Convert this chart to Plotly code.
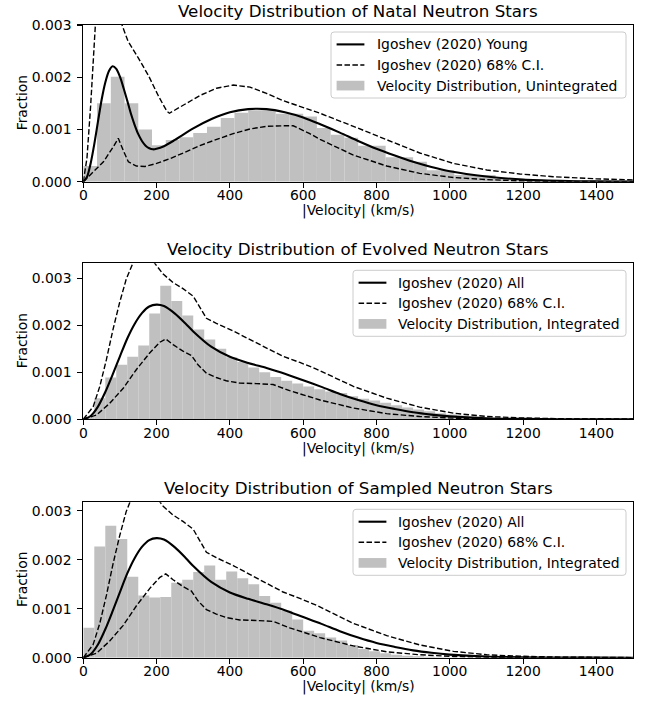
import plotly.graph_objects as go

# ---------------- data (fractions in units of 1e-3) ----------------
SCALE = 1e-3

# Histograms
natal_bin = 37.5
natal_hist = [0.30, 1.50, 2.01, 1.50, 1.00, 0.70, 0.80, 0.85, 0.93, 1.05,
              1.22, 1.32, 1.37, 1.37, 1.30, 1.30, 1.25, 1.03, 0.90, 0.84,
              0.69, 0.69, 0.47, 0.47, 0.38, 0.22, 0.22, 0.13, 0.13, 0.13,
              0.05, 0.05, 0.02, 0.01, 0.0, 0.0, 0.0, 0.0, 0.0, 0.0]

evolved_bin = 30.0
evolved_hist = [0.05, 0.45, 0.89, 1.16, 1.33, 1.57, 2.25, 2.84, 2.52, 2.21,
                1.91, 1.70, 1.50, 1.32, 1.22, 1.10, 1.00, 0.90, 0.82, 0.76,
                0.70, 0.64, 0.59, 0.56, 0.49, 0.44, 0.40, 0.35, 0.30, 0.25,
                0.21, 0.17, 0.13, 0.10, 0.08, 0.06, 0.04, 0.03, 0.02, 0.015,
                0.01, 0.005, 0.003, 0.0, 0.0, 0.0, 0.0, 0.0, 0.0, 0.0]

sampled_bin = 30.0
sampled_hist = [0.61, 2.27, 2.69, 2.42, 1.65, 1.27, 1.23, 1.24, 1.53, 1.59,
                1.75, 1.88, 1.59, 1.76, 1.62, 1.50, 1.26, 1.12, 0.96, 0.78,
                0.55, 0.50, 0.41, 0.35, 0.26, 0.18, 0.13, 0.09, 0.06, 0.04,
                0.03, 0.02, 0.01, 0.005, 0.0, 0.0, 0.0, 0.0, 0.0, 0.0,
                0.0, 0.0, 0.0, 0.0, 0.0, 0.0, 0.0, 0.0, 0.0, 0.0]

# Igoshev (2020) Young
young_v = [0, 10, 20, 30, 40, 50, 60, 70, 80, 90, 100, 110, 120, 130, 140,
           150, 160, 170, 180, 190, 200, 220, 250, 300, 350, 400, 450, 500,
           550, 600, 650, 700, 750, 800, 850, 900, 950, 1000, 1100, 1200,
           1300, 1400, 1500]
young_f = [0, 0.09, 0.35, 0.72, 1.15, 1.57, 1.90, 2.12, 2.21, 2.16, 2.01,
           1.79, 1.55, 1.30, 1.09, 0.91, 0.78, 0.69, 0.64, 0.62, 0.63, 0.68,
           0.80, 1.02, 1.20, 1.33, 1.39, 1.39, 1.33, 1.23, 1.09, 0.94, 0.78,
           0.63, 0.50, 0.38, 0.28, 0.20, 0.10, 0.04, 0.016, 0.006, 0.002]

young_hi_v = [0, 10, 20, 30, 35, 45, 60, 75, 90, 102, 122, 150, 178, 205, 228,
              235, 250, 273, 300, 318, 364, 409, 455, 500, 546, 591, 637, 646,
              737, 828, 918, 1010, 1101, 1191, 1282, 1400, 1500]
young_hi = [0, 0.45, 1.45, 2.65, 3.25, 4.0, 4.6, 4.5, 3.8, 3.07, 2.69, 2.37,
            2.03, 1.64, 1.35, 1.31, 1.37, 1.47, 1.58, 1.65, 1.79, 1.85, 1.81,
            1.69, 1.55, 1.44, 1.33, 1.31, 1.06, 0.80, 0.55, 0.35, 0.225,
            0.148, 0.096, 0.055, 0.035]

young_lo_v = [0, 27, 55, 82, 95.5, 109, 123, 145, 168, 200, 236, 273, 318, 364,
              409, 455, 500, 546, 573, 618, 646, 737, 828, 918, 1010, 1101,
              1200, 1300, 1500]
young_lo = [0, 0.19, 0.38, 0.67, 0.83, 0.60, 0.38, 0.30, 0.29, 0.35, 0.44,
            0.55, 0.69, 0.81, 0.92, 1.01, 1.06, 1.07, 1.07, 0.92, 0.81, 0.51,
            0.30, 0.16, 0.08, 0.04, 0.015, 0.005, 0.0]

# Igoshev (2020) All
all_v = [0, 20, 40, 60, 80, 100, 120, 140, 160, 180, 200, 220, 250, 280, 300,
         350, 400, 450, 500, 550, 600, 650, 700, 750, 800, 850, 900, 950,
         1000, 1100, 1200, 1300, 1400, 1500]
all_f = [0, 0.07, 0.27, 0.58, 0.95, 1.34, 1.72, 2.03, 2.26, 2.40, 2.44, 2.41,
         2.25, 2.03, 1.87, 1.54, 1.33, 1.20, 1.09, 0.97, 0.83, 0.69, 0.54,
         0.41, 0.30, 0.22, 0.15, 0.10, 0.063, 0.023, 0.008, 0.002, 0.0006,
         0.0001]

all_hi_v = [0, 27, 45, 63, 81, 99, 117, 134, 150, 165, 180, 193, 218, 245, 272,
            300, 336, 363, 409, 454, 500, 545, 591, 636, 737, 828, 918, 1010,
            1101, 1191, 1300, 1400, 1500]
all_hi = [0, 0.27, 0.70, 1.27, 1.91, 2.48, 2.98, 3.34, 3.6, 3.7, 3.6, 3.34,
          3.09, 2.91, 2.78, 2.62, 2.15, 2.04, 1.88, 1.70, 1.52, 1.34, 1.21,
          1.07, 0.70, 0.45, 0.26, 0.13, 0.06, 0.03, 0.012, 0.005, 0.002]

all_lo_v = [0, 36, 72, 109, 145, 181, 209, 225, 245, 272, 295, 313, 336, 363,
            390, 427, 472, 518, 563, 609, 646, 737, 828, 918, 1010, 1101, 1200,
            1500]
all_lo = [0, 0.09, 0.34, 0.66, 1.06, 1.41, 1.64, 1.71, 1.59, 1.45, 1.36, 1.16,
          0.98, 0.89, 0.82, 0.77, 0.76, 0.74, 0.61, 0.50, 0.41, 0.24, 0.12,
          0.06, 0.025, 0.01, 0.004, 0.0]

titles = ["Velocity Distribution of Natal Neutron Stars",
          "Velocity Distribution of Evolved Neutron Stars",
          "Velocity Distribution of Sampled Neutron Stars"]
legend_labels = [
    ["Igoshev (2020) Young", "Igoshev (2020) 68% C.I.", "Velocity Distribution, Unintegrated"],
    ["Igoshev (2020) All", "Igoshev (2020) 68% C.I.", "Velocity Distribution, Integrated"],
    ["Igoshev (2020) All", "Igoshev (2020) 68% C.I.", "Velocity Distribution, Integrated"],
]
x_ticks = [0, 200, 400, 600, 800, 1000, 1200, 1400]
y_ticks = [0.0, 0.001, 0.002, 0.003]
y_ticktext = ["0.000", "0.001", "0.002", "0.003"]
x_label = "|Velocity| (km/s)"
y_label = "Fraction"

# ---------------- layout geometry (pixels) ----------------
W, H = 649, 704
FONT = "DejaVu Sans"
FS = 13.9
TFS = 16.7
PL, PR = 83.3, 633.0
tops = [25.0, 263.3, 502.3]
bottoms = [181.7, 419.3, 657.7]
ymaxes = [0.003, 0.00332, 0.00317]
leg_left = [331.0, 353.0, 353.0]
GRAY = "#c0c0c0"


def px(x):
    return x / W


def py(y):
    return 1 - y / H


panels = [
    (natal_bin, natal_hist, young_v, young_f, young_hi_v, young_hi, young_lo_v, young_lo),
    (evolved_bin, evolved_hist, all_v, all_f, all_hi_v, all_hi, all_lo_v, all_lo),
    (sampled_bin, sampled_hist, all_v, all_f, all_hi_v, all_hi, all_lo_v, all_lo),
]

fig = go.Figure()
dash_line = dict(color="black", width=1.4, dash="5.5px,2.4px")
solid_line = dict(color="black", width=2.1, shape="spline", smoothing=0.8)

for i, (bw, hist, cv, cf, hv, hf, lv, lf) in enumerate(panels):
    xa = "x" if i == 0 else f"x{i+1}"
    ya = "y" if i == 0 else f"y{i+1}"
    centers = [(k + 0.5) * bw for k in range(len(hist))]
    fig.add_trace(go.Bar(x=centers, y=[h * SCALE for h in hist], width=bw,
                         marker=dict(color=GRAY, line=dict(width=0)),
                         xaxis=xa, yaxis=ya, hoverinfo="skip"))
    fig.add_trace(go.Scatter(x=hv, y=[v * SCALE for v in hf], mode="lines",
                             line=dash_line, xaxis=xa, yaxis=ya))
    fig.add_trace(go.Scatter(x=lv, y=[v * SCALE for v in lf], mode="lines",
                             line=dash_line, xaxis=xa, yaxis=ya))
    fig.add_trace(go.Scatter(x=cv, y=[v * SCALE for v in cf], mode="lines",
                             line=solid_line, xaxis=xa, yaxis=ya))

layout = dict(
    width=W, height=H, autosize=False,
    margin=dict(l=0, r=0, t=0, b=0),
    plot_bgcolor="white", paper_bgcolor="white",
    showlegend=False, barmode="overlay", hovermode=False,
    font=dict(family=FONT, size=FS, color="black"),
)
axis_common = dict(ticks="outside", ticklen=4.9, tickwidth=1.1, tickcolor="black",
                   showline=True, linecolor="black", linewidth=1.1, mirror=True,
                   showgrid=False, zeroline=False, automargin=False,
                   tickfont=dict(family=FONT, size=FS, color="black"))
for i in range(3):
    xn = "xaxis" if i == 0 else f"xaxis{i+1}"
    yn = "yaxis" if i == 0 else f"yaxis{i+1}"
    ya = "y" if i == 0 else f"y{i+1}"
    xa = "x" if i == 0 else f"x{i+1}"
    layout[xn] = dict(domain=[px(PL), px(PR)], anchor=ya, range=[0, 1500],
                      tickvals=x_ticks, ticklabelstandoff=-4, **axis_common)
    layout[yn] = dict(domain=[py(bottoms[i]), py(tops[i])], anchor=xa,
                      range=[0, ymaxes[i]], tickvals=y_ticks, ticktext=y_ticktext,
                      ticklabelstandoff=3, **axis_common)
fig.update_layout(**layout)

annotations = []
shapes = []
cx = (PL + PR) / 2
for i in range(3):
    top, bot = tops[i], bottoms[i]
    annotations.append(dict(text=titles[i], x=px(cx), y=py(top - 14), xref="paper", yref="paper",
                            xanchor="center", yanchor="middle", showarrow=False,
                            font=dict(family=FONT, size=TFS, color="black")))
    annotations.append(dict(text=x_label, x=px(cx), y=py(bot + 29), xref="paper", yref="paper",
                            xanchor="center", yanchor="middle", showarrow=False,
                            font=dict(family=FONT, size=FS, color="black")))
    annotations.append(dict(text=y_label, x=px(22), y=py((top + bot) / 2), xref="paper", yref="paper",
                            xanchor="center", yanchor="middle", showarrow=False, textangle=-90,
                            font=dict(family=FONT, size=FS, color="black")))
    # legend frame
    lt, lb = top + 7, top + 73
    ll, lr = leg_left[i], 626.0
    r = 3.0
    L, R, T, B = px(ll), px(lr), py(lt), py(lb)
    rx, ry = r / W, r / H
    path = (f"M {L+rx},{T} L {R-rx},{T} Q {R},{T} {R},{T-ry} L {R},{B+ry} "
            f"Q {R},{B} {R-rx},{B} L {L+rx},{B} Q {L},{B} {L},{B+ry} "
            f"L {L},{T-ry} Q {L},{T} {L+rx},{T} Z")
    shapes.append(dict(type="path", path=path, xref="paper", yref="paper",
                       line=dict(color="#cccccc", width=1),
                       fillcolor="rgba(255,255,255,0.8)"))
    for k in range(3):
        yc = lt + 12.4 + 20.6 * k
        h0, h1 = ll + 5.6, ll + 33.4
        if k == 0:
            shapes.append(dict(type="line", xref="paper", yref="paper",
                               x0=px(h0), x1=px(h1), y0=py(yc), y1=py(yc),
                               line=dict(color="black", width=2.1)))
        elif k == 1:
            shapes.append(dict(type="line", xref="paper", yref="paper",
                               x0=px(h0), x1=px(h1), y0=py(yc), y1=py(yc),
                               line=dict(color="black", width=1.4, dash="5.5px,2.4px")))
        else:
            shapes.append(dict(type="rect", xref="paper", yref="paper",
                               x0=px(h0), x1=px(h1), y0=py(yc + 4.85), y1=py(yc - 4.85),
                               line=dict(width=0), fillcolor=GRAY))
        annotations.append(dict(text=legend_labels[i][k], x=px(ll + 43.5), y=py(yc),
                                xref="paper", yref="paper", xanchor="left", yanchor="middle",
                                showarrow=False, font=dict(family=FONT, size=FS, color="black")))

fig.update_layout(annotations=annotations, shapes=shapes)
fig.write_html("out.html",
               config={"displayModeBar": False, "staticPlot": True},
               post_script="document.body.style.margin='0px';document.body.style.padding='0px';")
